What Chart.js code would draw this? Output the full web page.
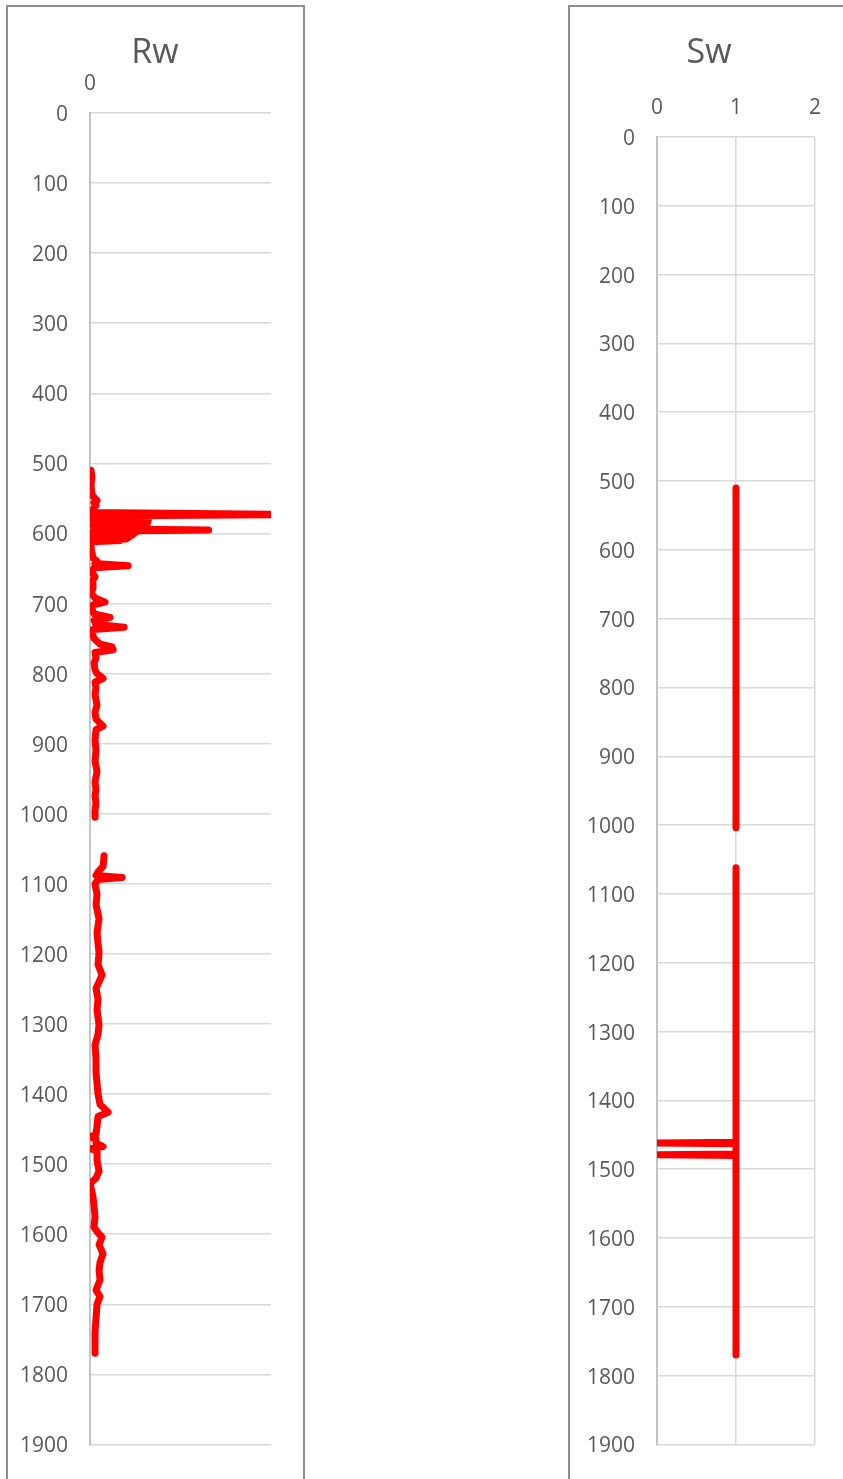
<!DOCTYPE html>
<html>
<head>
<meta charset="utf-8">
<title>Rw / Sw</title>
<script src="https://cdn.jsdelivr.net/npm/chart.js@4.4.1/dist/chart.umd.min.js"></script>
<style>
    html, body { margin: 0; padding: 0; background: #fff; width: 843px; height: 1479px; overflow: hidden; }
    .panel { position: absolute; box-sizing: border-box; border: 2px solid #8f8f8f; background: #fff; }
    #rwPanel { left: 6px; top: 5px; width: 299px; height: 1500px; }
    #swPanel { left: 568px; top: 5px; width: 300px; height: 1500px; }
    canvas { position: absolute; top: 0; z-index: 2; }
    #rwChart { left: 9px; }
    #swChart { left: 571px; }
</style>
</head>
<body>
<div class="panel" id="rwPanel"></div>
<div class="panel" id="swPanel"></div>
<canvas id="rwChart" width="292" height="1479"></canvas>
<canvas id="swChart" width="276" height="1479"></canvas>
<script>
// depth (m) and Rw readings, null = no data
const depthRw = [
    510, 520, 530, 545, 550, 553, 556, 560, 565, 570,
    573, 575, 576, 577, 578, 579, 580, 581, 582, 583,
    584, 585, 586, 587, 588, 589, 590, 591, 592, 593,
    594, 595, 596, 597, 598, 599, 600, 601, 602, 603,
    604, 605, 606, 607, 608, 609, 610, 612,
    614, 620, 628, 635, 640, 643, 646, 649, 655,
    662, 668, 672, 678, 685, 692, 698, 702, 708, 715,
    720, 724, 730, 734, 737, 742, 750, 758, 762, 766,
    770, 778, 785, 795, 800, 807, 812, 820, 830, 845,
    855, 865, 875, 880, 895, 910, 925, 940, 955, 965,
    975, 985, 995, 1005, null,
    1060, 1075, 1083, 1088, 1091, 1094, 1100, 1115, 1130, 1150,
    1170, 1185, 1199, 1215, 1230, 1240, 1249, 1265, 1280, 1301,
    1315, 1330, 1350, 1370, 1385, 1400, 1415, 1426, 1432, 1445,
    1458, 1461, 1464, 1470, 1475, 1478, 1481, 1495, 1510, 1520,
    1528, 1540, 1547, 1560, 1575, 1590, 1600, 1604, 1615, 1628,
    1640, 1652, 1665, 1680, 1689, 1700, 1720, 1740, 1755, 1770
];
const rwValues = [
    0.001, 0.002, 0.001, 0.002, 0.005, 0.007, 0.004, 0.006, 0.003, 0.002,
    0.200, 0.003, 0.058, 0.004, 0.057, 0.005, 0.056, 0.003, 0.058, 0.006,
    0.055, 0.004, 0.057, 0.005, 0.054, 0.003, 0.056, 0.006, 0.052, 0.004,
    0.050, 0.118, 0.048, 0.003, 0.046, 0.005, 0.044, 0.003, 0.042, 0.004,
    0.040, 0.002, 0.038, 0.003, 0.036, 0.002, 0.030, 0.002,
    0.001, 0.001, 0.002, 0.003, 0.007, 0.005, 0.038, 0.004, 0.002,
    0.005, 0.002, 0.003, 0.003, 0.001, 0.005, 0.015, 0.003, 0.002, 0.004,
    0.020, 0.004, 0.006, 0.034, 0.003, 0.002, 0.004, 0.010, 0.022, 0.023,
    0.005, 0.006, 0.004, 0.005, 0.007, 0.013, 0.005, 0.006, 0.005, 0.007,
    0.005, 0.006, 0.013, 0.006, 0.005, 0.006, 0.005, 0.007, 0.005, 0.006,
    0.005, 0.006, 0.005, 0.005, null,
    0.014, 0.013, 0.008, 0.006, 0.032, 0.008, 0.005, 0.007, 0.006, 0.009,
    0.007, 0.008, 0.009, 0.008, 0.012, 0.009, 0.006, 0.008, 0.007, 0.009,
    0.008, 0.005, 0.006, 0.006, 0.007, 0.008, 0.010, 0.018, 0.008, 0.007,
    0.006, 0.000, 0.006, 0.006, 0.013, 0.000, 0.007, 0.007, 0.009, 0.006,
    0.000, 0.002, 0.003, 0.004, 0.005, 0.004, 0.009, 0.012, 0.009, 0.013,
    0.010, 0.009, 0.010, 0.006, 0.010, 0.007, 0.006, 0.005, 0.005, 0.005
];

const depthSw = [510, 1004, null, 1062, 1461, 1462, 1463, 1478, 1479, 1480, 1770];
const swValues = [1, 1, null, 1, 1, 0, 1, 1, 0, 1, 1];

const depthTicks = { min: 0, max: 1900, step: 100 };
const rwTicks = [0];
const swTicks = { min: 0, max: 2, step: 1 };

let rwChartInstance;
let swChartInstance;

document.addEventListener("DOMContentLoaded", function() {
    Chart.defaults.font.family = "'Open Sans', sans-serif";
    Chart.defaults.color = '#595959';
    renderRwChart();
    renderSwChart();
});

function toPoints(depths, values) {
    return depths.map((d, i) => ({ x: values[i], y: d }));
}

function plainLabel(value) {
    return String(value);
}

function depthAxis(axisWidth) {
    return {
        type: 'linear',
        position: 'left',
        reverse: true,
        min: depthTicks.min,
        max: depthTicks.max,
        ticks: { stepSize: depthTicks.step, padding: 22, labelOffset: 2, font: { size: 21 }, callback: plainLabel },
        grid: { color: '#d9d9d9', lineWidth: 1.5, drawTicks: false },
        border: { color: '#c4c4c4', width: 2 },
        afterFit: scale => { scale.width = axisWidth; }
    };
}

// empty axis on the right, only there so the title sits where Excel put it
function spacerAxis(axisWidth) {
    return {
        type: 'linear',
        position: 'right',
        ticks: { display: false },
        grid: { display: false, drawTicks: false },
        border: { display: false },
        afterFit: scale => { scale.width = axisWidth; }
    };
}

function logDataset(label, points) {
    return {
        label: label,
        data: points,
        showLine: true,
        borderColor: '#ff0000',
        backgroundColor: '#ff0000',
        borderWidth: 7,
        borderCapStyle: 'round',
        borderJoinStyle: 'round',
        pointRadius: 0,
        tension: 0,
        spanGaps: false
    };
}

function baseOptions(title) {
    return {
        responsive: false,
        animation: false,
        layout: { padding: { left: 0, right: 0, top: 0, bottom: 27 } },
        plugins: {
            legend: { display: false },
            tooltip: { enabled: false },
            title: {
                display: true,
                text: title,
                color: '#595959',
                font: { size: 34, weight: 'normal' },
                padding: { top: 33, bottom: 0 }
            }
        }
    };
}

function renderRwChart() {
    const ctx = document.getElementById('rwChart').getContext('2d');
    if (rwChartInstance) rwChartInstance.destroy();
    const options = baseOptions('Rw');
    options.scales = {
        x: {
            type: 'linear',
            position: 'top',
            min: 0,
            max: 0.18,
            afterBuildTicks: scale => { scale.ticks = rwTicks.map(v => ({ value: v })); },
            ticks: { padding: 16, font: { size: 21 }, callback: plainLabel },
            grid: { display: false, drawTicks: false },
            border: { display: false },
            afterFit: scale => { scale.height = 39.2; }
        },
        y: depthAxis(81),
        yRight: spacerAxis(30)
    };
    rwChartInstance = new Chart(ctx, {
        type: 'scatter',
        data: { datasets: [logDataset('Rw', toPoints(depthRw, rwValues))] },
        options: options
    });
}

function renderSwChart() {
    const ctx = document.getElementById('swChart').getContext('2d');
    if (swChartInstance) swChartInstance.destroy();
    const options = baseOptions('Sw');
    options.scales = {
        x: {
            type: 'linear',
            position: 'top',
            min: swTicks.min,
            max: swTicks.max,
            ticks: { stepSize: swTicks.step, padding: 16, font: { size: 21 }, callback: plainLabel },
            grid: { color: '#d9d9d9', lineWidth: 1.5, drawTicks: false },
            border: { display: false },
            afterFit: scale => { scale.height = 63.2; }
        },
        y: depthAxis(86),
        yRight: spacerAxis(32)
    };
    swChartInstance = new Chart(ctx, {
        type: 'scatter',
        data: { datasets: [logDataset('Sw', toPoints(depthSw, swValues))] },
        options: options
    });
}
</script>
</body>
</html>
